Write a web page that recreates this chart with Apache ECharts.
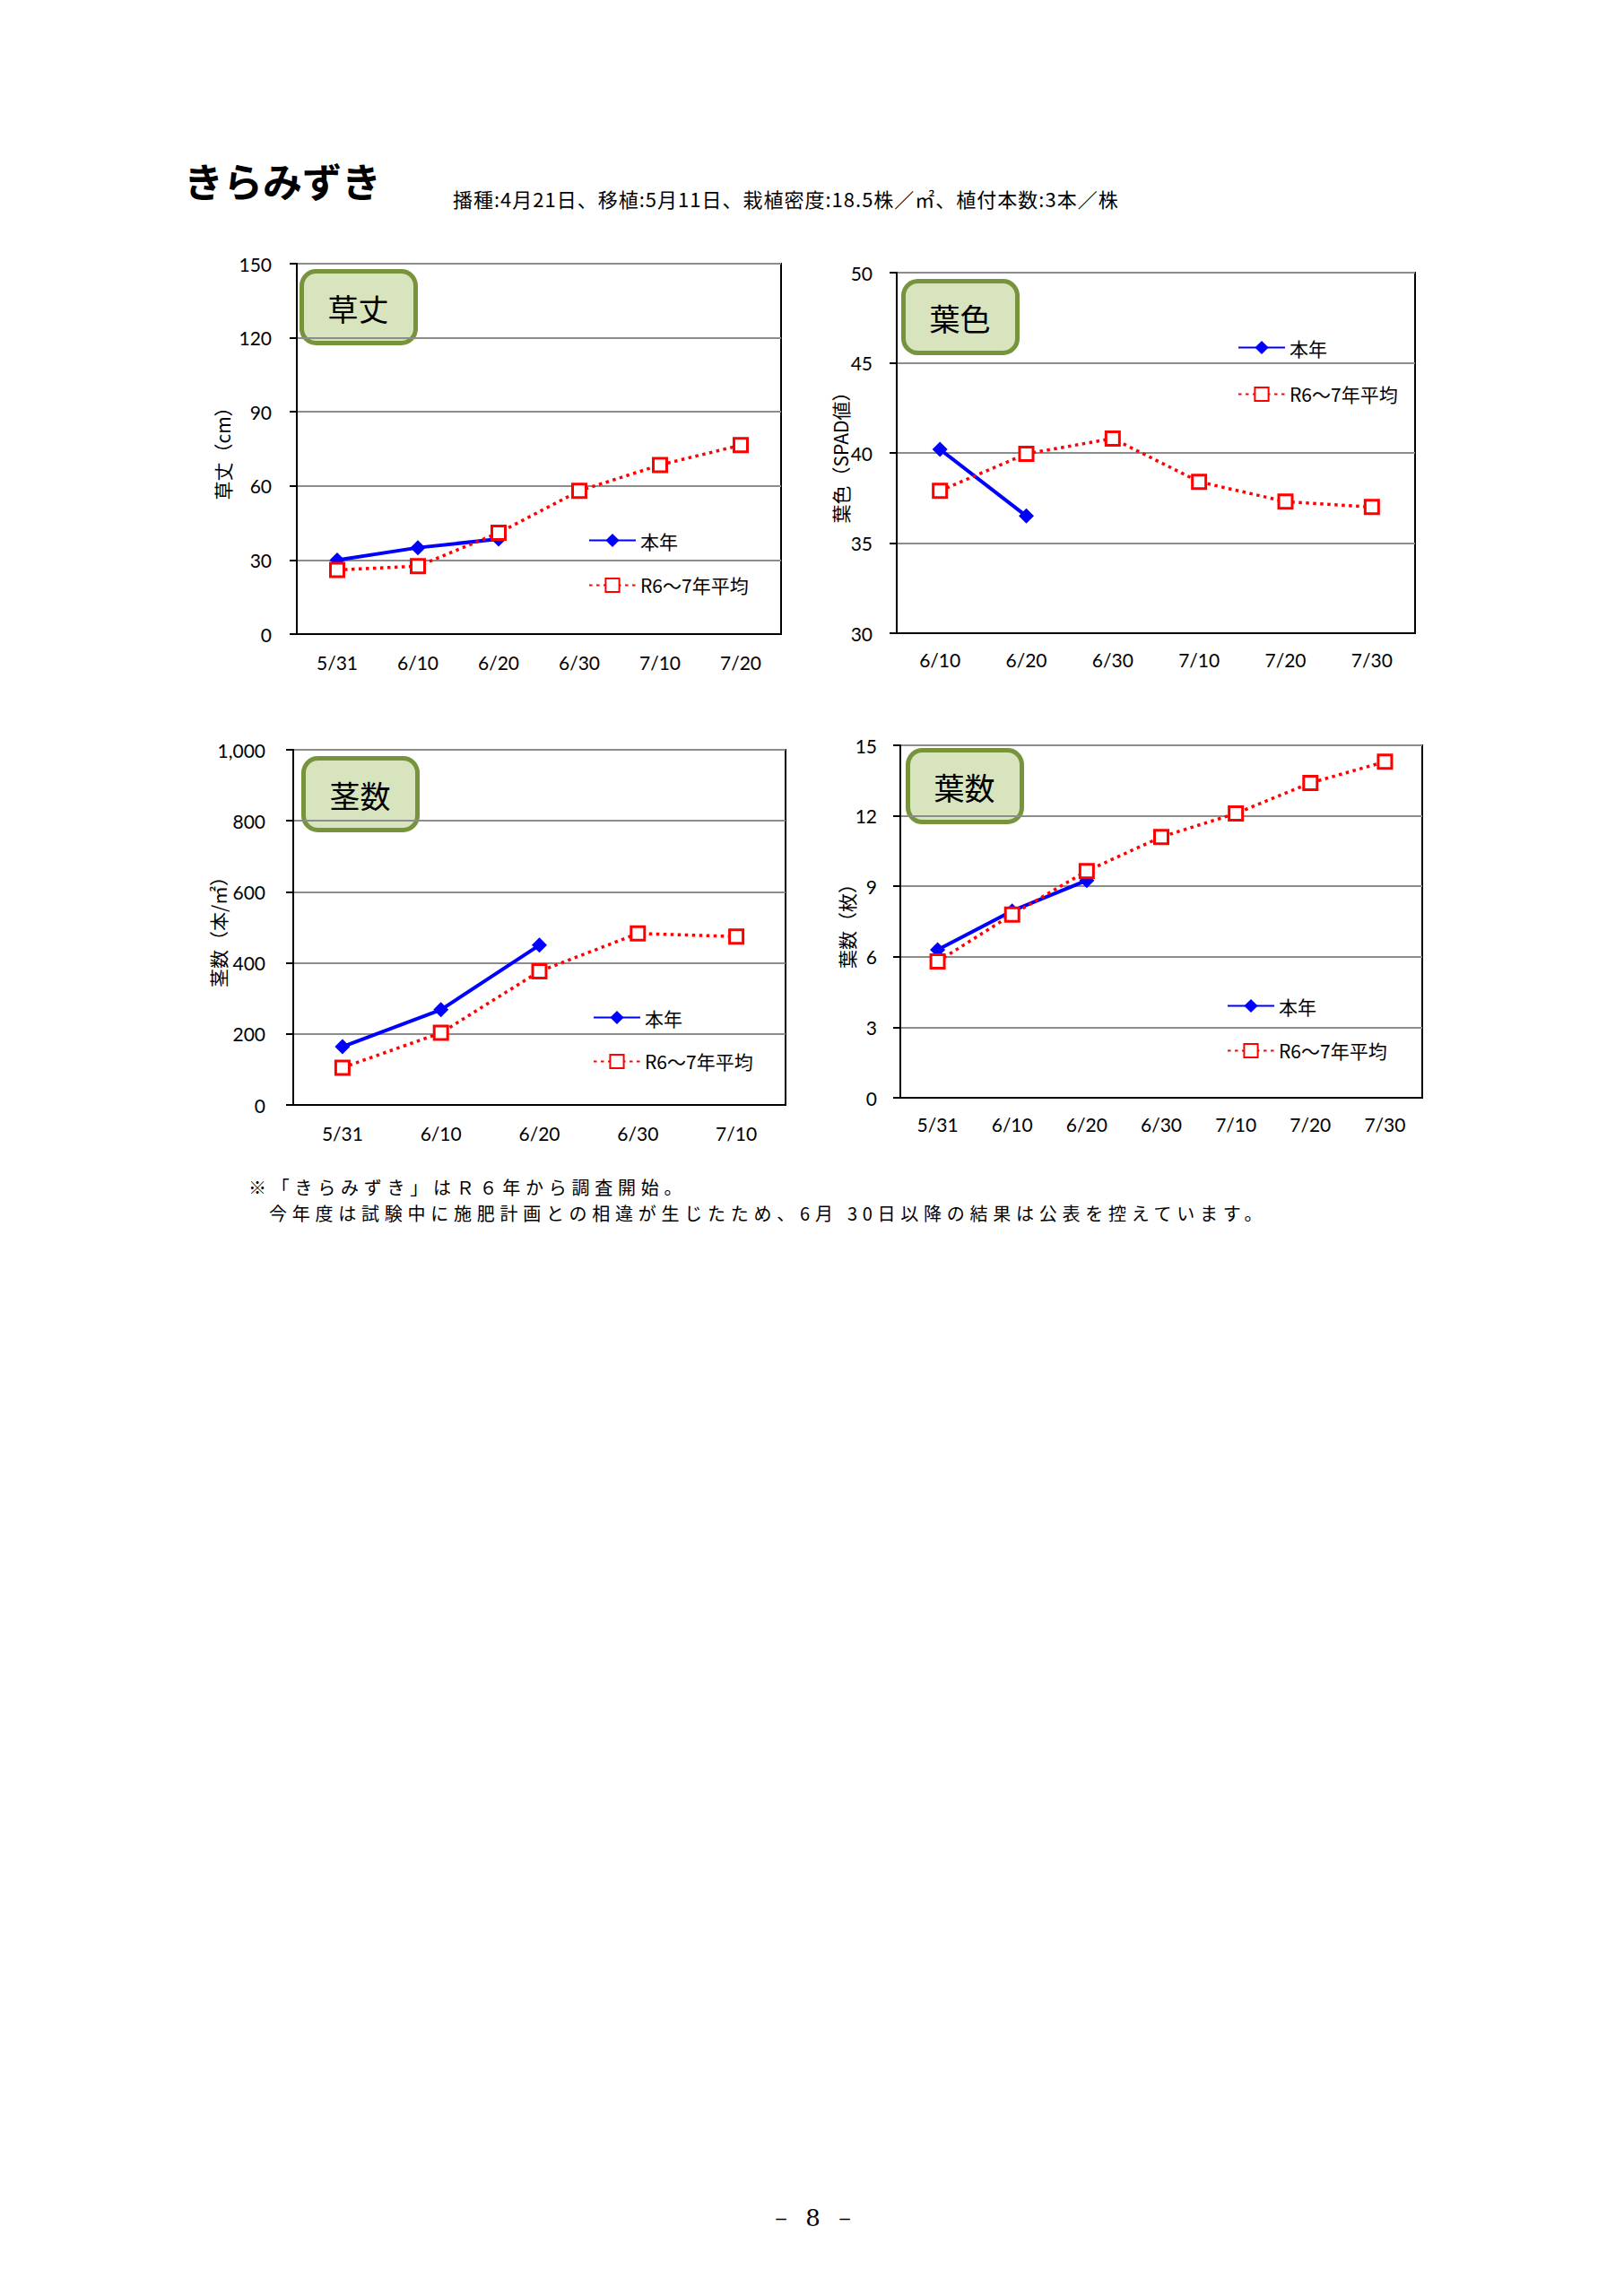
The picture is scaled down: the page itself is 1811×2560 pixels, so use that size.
<!DOCTYPE html>
<html>
<head>
<meta charset="utf-8">
<script src="https://cdn.jsdelivr.net/npm/echarts@6/dist/echarts.min.js"></script>
<style>
  body { margin: 0; background: #fff; }
  #page { position: relative; width: 1811px; height: 2560px; background: #fff; font-family: "Noto Sans CJK JP", sans-serif; color: #000; }
  .txt { position: absolute; white-space: nowrap; }
  .chart { position: absolute; height: 580px; }
</style>
</head>
<body>
<div id="page">
  <div class="txt" style="left:205px; top:172px; font-size:44px; font-weight:700; line-height:58px;">きらみずき</div>
  <div class="txt" style="left:505px; top:206px; font-size:22px; letter-spacing:1px; line-height:30px;">播種:4月21日、移植:5月11日、栽植密度:18.5株／㎡、植付本数:3本／株</div>

  <div id="c1" class="chart" style="left:100px; top:240px; width:820px;"></div>
  <div id="c2" class="chart" style="left:880px; top:240px; width:760px;"></div>
  <div id="c3" class="chart" style="left:100px; top:780px; width:820px;"></div>
  <div id="c4" class="chart" style="left:880px; top:780px; width:760px;"></div>

  <div class="txt" style="left:277px; top:1310px; font-size:20px; letter-spacing:5.75px; line-height:28px;">※「きらみずき」はＲ６年から調査開始。</div>
  <div class="txt" style="left:300px; top:1339px; font-size:20px; letter-spacing:5.75px; line-height:28px;">今年度は試験中に施肥計画との相違が生じたため、6月 30日以降の結果は公表を控えています。</div>

  <div class="txt" style="left:858px; top:2456px; font-size:26px; letter-spacing:3px; line-height:34px; font-family:'DejaVu Serif', serif;">－ 8 －</div>
</div>
<script>
// 草丈
const heightDates = ['5/31', '6/10', '6/20', '6/30', '7/10', '7/20'];
const heightThisYear = [30, 35, 38.5];
const heightAvg = [26, 27.5, 41, 58, 68.5, 76.5];
const heightAxis = [0, 150, 30];

// 葉色
const colorDates = ['6/10', '6/20', '6/30', '7/10', '7/20', '7/30'];
const colorThisYear = [40.2, 36.5];
const colorAvg = [37.9, 39.95, 40.8, 38.4, 37.3, 37.0];
const colorAxis = [30, 50, 5];

// 茎数
const stemDates = ['5/31', '6/10', '6/20', '6/30', '7/10'];
const stemThisYear = [164, 268, 450];
const stemAvg = [105, 203, 376, 483, 474];
const stemAxis = [0, 1000, 200];

// 葉数
const leafDates = ['5/31', '6/10', '6/20', '6/30', '7/10', '7/20', '7/30'];
const leafThisYear = [6.3, 7.95, 9.25];
const leafAvg = [5.8, 7.8, 9.65, 11.1, 12.1, 13.4, 14.3];
const leafAxis = [0, 15, 3];

const seriesNames = ['本年', 'R6～7年平均'];

const numFont = 'Lato, "Noto Sans CJK JP", sans-serif';
const jpFont = '"Noto Sans CJK JP", sans-serif';

function makeChart(id, c) {
  const chart = echarts.init(document.getElementById(id), null, { renderer: 'svg' });
  chart.setOption({
    animation: false,
    grid: {
      left: c.grid[0], top: c.grid[1], width: c.grid[2], height: c.grid[3],
      outerBoundsMode: 'none', containLabel: false,
      show: true, borderColor: '#000', borderWidth: 2, backgroundColor: 'transparent'
    },
    xAxis: {
      type: 'category',
      data: c.dates,
      boundaryGap: true,
      axisLine: { lineStyle: { color: '#000', width: 2 } },
      axisTick: { length: 8, lineStyle: { color: '#000', width: 2 } },
      axisLabel: { color: '#000', fontSize: 21, fontFamily: numFont, margin: c.xMargin }
    },
    yAxis: {
      type: 'value',
      min: c.axis[0], max: c.axis[1], interval: c.axis[2],
      name: c.yName,
      nameLocation: 'middle',
      nameRotate: 90,
      nameGap: c.nameGap,
      nameMoveOverlap: false,
      nameTextStyle: { color: '#000', fontSize: 21, fontFamily: jpFont },
      axisLine: { show: true, lineStyle: { color: '#000', width: 2 } },
      axisTick: { show: true, length: 8, lineStyle: { color: '#000', width: 2 } },
      splitLine: { lineStyle: { color: '#8c8c8c', width: 2 } },
      axisLabel: {
        color: '#000', fontSize: 21, fontFamily: numFont, margin: c.yMargin,
        formatter: (v) => v.toLocaleString('en-US')
      }
    },
    legend: {
      orient: 'vertical',
      left: c.legend[0], top: c.legend[1],
      itemWidth: 52, itemHeight: 19, itemGap: c.legend[2],
      selectedMode: false,
      textStyle: { color: '#000', fontSize: 21, fontFamily: jpFont },
      data: seriesNames
    },
    graphic: [{
      type: 'group',
      left: c.badge[0], top: c.badge[1],
      children: [{
        type: 'rect',
        shape: { x: 0, y: 0, width: 127, height: 80, r: 16 },
        style: { fill: '#d7e4bd', stroke: '#77933c', lineWidth: 5 }
      }, {
        type: 'text',
        x: 63, y: 41,
        style: {
          text: c.badgeText, fill: '#000', fontSize: 34, fontFamily: jpFont,
          align: 'center', verticalAlign: 'middle'
        }
      }]
    }],
    series: [{
      name: seriesNames[0],
      type: 'line',
      data: c.thisYear,
      symbol: 'diamond',
      symbolSize: 17,
      lineStyle: { color: '#0000ff', width: 4 },
      itemStyle: { color: '#0000ff' }
    }, {
      name: seriesNames[1],
      type: 'line',
      data: c.avg,
      symbol: 'rect',
      symbolSize: 15,
      lineStyle: { color: '#ff0000', width: 3.5, type: [3.5, 4.5] },
      itemStyle: { color: '#fff', borderColor: '#ff0000', borderWidth: 3 }
    }]
  });
}

makeChart('c1', {
  dates: heightDates, thisYear: heightThisYear, avg: heightAvg, axis: heightAxis,
  yName: '草丈（cm）', badgeText: '草丈',
  grid: [231, 54, 540, 413], xMargin: 21, yMargin: 28, nameGap: 73,
  legend: [551, 347, 29], badge: [234, 60]
});
makeChart('c2', {
  dates: colorDates, thisYear: colorThisYear, avg: colorAvg, axis: colorAxis,
  yName: '葉色（SPAD値）', badgeText: '葉色',
  grid: [120, 64, 578, 402], xMargin: 19, yMargin: 27, nameGap: 53,
  legend: [495, 132, 31], badge: [125, 71]
});
makeChart('c3', {
  dates: stemDates, thisYear: stemThisYear, avg: stemAvg, axis: stemAxis,
  yName: '茎数（本/㎡）', badgeText: '茎数',
  grid: [227, 56, 549, 396], xMargin: 21, yMargin: 31, nameGap: 74,
  legend: [556, 339, 28], badge: [236, 63]
});
makeChart('c4', {
  dates: leafDates, thisYear: leafThisYear, avg: leafAvg, axis: leafAxis,
  yName: '葉数（枚）', badgeText: '葉数',
  grid: [124, 51, 582, 393], xMargin: 19, yMargin: 26, nameGap: 50,
  legend: [483, 326, 29], badge: [130, 54]
});
</script>
</body>
</html>
